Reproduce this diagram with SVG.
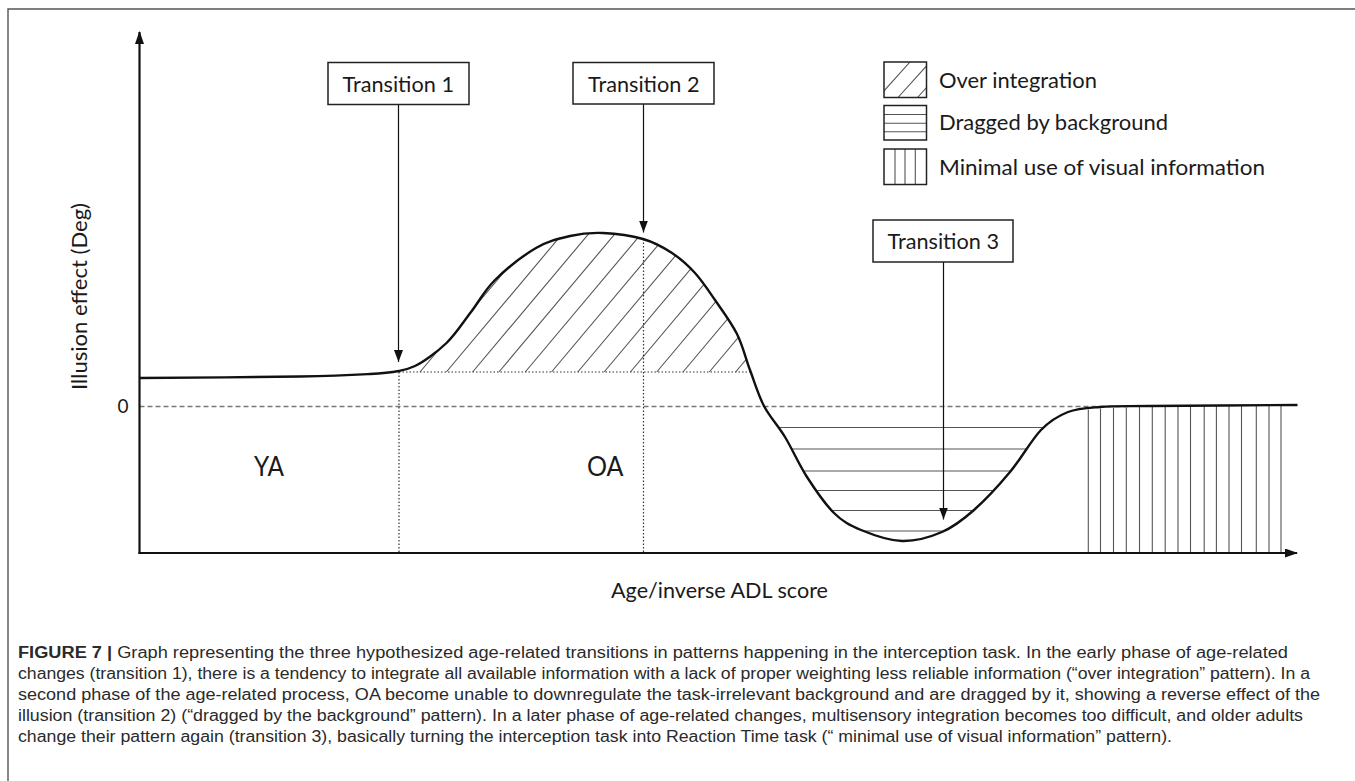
<svg xmlns="http://www.w3.org/2000/svg" width="1355" height="781" viewBox="0 0 1355 781">
<style>
.lab{font-family:Lato,"Open Sans","Liberation Sans",sans-serif;fill:#1a1a1a;}
.box{fill:#fff;stroke:#222;stroke-width:1.5;}
.hatch{stroke:#555;stroke-width:1.1;fill:none;}
.dot{stroke:#333;stroke-width:1.2;stroke-dasharray:1.5 2;fill:none;}
.dash{stroke:#777;stroke-width:1.3;stroke-dasharray:5 3;fill:none;}
.arr{stroke:#111;stroke-width:1.2;fill:none;marker-end:url(#ah);}
.axis{stroke:#111;stroke-width:2.2;fill:none;marker-end:url(#axh);}
.cap{font-family:"Liberation Sans",Arial,sans-serif;font-size:16px;fill:#2a2a2a;}
</style>
<defs>
<marker id="ah" markerUnits="userSpaceOnUse" markerWidth="12" markerHeight="9" viewBox="0 0 12 9" refX="12" refY="4.5" orient="auto"><path d="M0,0 L12,4.5 L0,9 Z" fill="#111"/></marker>
<marker id="axh" markerUnits="userSpaceOnUse" markerWidth="13" markerHeight="9" viewBox="0 0 13 9" refX="12" refY="4.5" orient="auto"><path d="M0,0 L13,4.5 L0,9 Z" fill="#111"/></marker>
<clipPath id="hump"><path d="M139.5,378 C166.25,377.75 261.58,377.17 300,376.5 C338.42,375.83 353.5,374.92 370,374 C386.5,373.08 391.5,372.33 399,371 C406.5,369.67 407.08,369.6 415,366 C422.92,362.4 437.17,352 446.5,343 C455.83,334 462.92,322.5 471,312 C479.08,301.5 484.17,290.67 495,280 C505.83,269.33 523.5,255.33 536,248 C548.5,240.67 558.83,238.5 570,236 C581.17,233.5 590.83,232.5 603,233 C615.17,233.5 631.5,235.67 643,239 C654.5,242.33 663.33,247.33 672,253 C680.67,258.67 687.83,265.17 695,273 C702.17,280.83 708,289.83 715,300 C722,310.17 731.17,322.33 737,334 C742.83,345.67 745.5,358 750,370 C754.5,382 758.17,394.83 764,406 L1297.5,406 L1297.5,372 L139.5,372 Z"/></clipPath>
<clipPath id="trough"><path d="M750,370 C754.5,382 758.17,394.83 764,406 C769.83,417.17 777.83,425.17 785,437 C792.17,448.83 798.83,464.33 807,477 C815.17,489.67 825,504.17 834,513 C843,521.83 849.67,525.33 861,530 C872.33,534.67 888.5,540.67 902,541 C915.5,541.33 930,537.17 942,532 C954,526.83 962.67,520 974,510 C985.33,500 998.83,485.33 1010,472 C1021.17,458.67 1031.33,440 1041,430 C1050.67,420 1058.17,415.83 1068,412 C1077.83,408.17 1086.33,408 1100,407 L1100,370 Z"/></clipPath>
<clipPath id="lg1"><rect x="884" y="62" width="42.5" height="35.5"/></clipPath>
</defs>
<rect x="0" y="0" width="1355" height="781" fill="#fff"/>
<g id="frame" stroke="#555" stroke-width="1.4" fill="none">
<path d="M8,781 V9 H1355"/>
</g>
<g id="hatching">
<g clip-path="url(#hump)" class="hatch">
<path d="M420,372 l134.4,-160 M446.3,372 l134.4,-160 M472.6,372 l134.4,-160 M498.9,372 l134.4,-160 M525.2,372 l134.4,-160 M551.5,372 l134.4,-160 M577.8,372 l134.4,-160 M604.1,372 l134.4,-160 M630.4,372 l134.4,-160 M656.7,372 l134.4,-160 M683,372 l134.4,-160 M709.3,372 l134.4,-160 M735.6,372 l134.4,-160"/>
</g>
<g clip-path="url(#trough)" class="hatch">
<path d="M740,427.5 H1110 M740,449 H1110 M740,471 H1110 M740,490.5 H1110 M740,510.5 H1110 M740,531 H1110"/>
</g>
<g class="hatch">
<path d="M1088.3,409.5 V552 M1100.5,408.5 V552 M1113.5,407.8 V552 M1126.3,407.4 V552 M1139.5,407 V552 M1152.3,406.6 V552 M1165.2,406.5 V552 M1178,406.3 V552 M1190.5,406.2 V552 M1204.2,406 V552 M1216.4,406 V552 M1229,405.8 V552 M1241.5,405.6 V552 M1256.3,405.5 V552 M1269,405.4 V552 M1281,405.3 V552"/>
</g>
</g>
<g id="guides">
<path class="dash" d="M139.5,406.5 H1130"/>
<path class="dot" d="M399,372 H751"/>
<path class="dot" d="M399,372 V553"/>
<path class="dot" d="M643.5,239 V553"/>
</g>
<g id="axes">
<path class="axis" d="M139.5,554 V32"/>
<path class="axis" d="M138.5,553 H1297"/>
</g>
<g id="curve">
<path fill="none" stroke="#111" stroke-width="2.4" stroke-linejoin="round" d="M139.5,378 C166.25,377.75 261.58,377.17 300,376.5 C338.42,375.83 353.5,374.92 370,374 C386.5,373.08 391.5,372.33 399,371 C406.5,369.67 407.08,369.6 415,366 C422.92,362.4 437.17,352 446.5,343 C455.83,334 462.92,322.5 471,312 C479.08,301.5 484.17,290.67 495,280 C505.83,269.33 523.5,255.33 536,248 C548.5,240.67 558.83,238.5 570,236 C581.17,233.5 590.83,232.5 603,233 C615.17,233.5 631.5,235.67 643,239 C654.5,242.33 663.33,247.33 672,253 C680.67,258.67 687.83,265.17 695,273 C702.17,280.83 708,289.83 715,300 C722,310.17 731.17,322.33 737,334 C742.83,345.67 745.5,358 750,370 C754.5,382 758.17,394.83 764,406 C769.83,417.17 777.83,425.17 785,437 C792.17,448.83 798.83,464.33 807,477 C815.17,489.67 825,504.17 834,513 C843,521.83 849.67,525.33 861,530 C872.33,534.67 888.5,540.67 902,541 C915.5,541.33 930,537.17 942,532 C954,526.83 962.67,520 974,510 C985.33,500 998.83,485.33 1010,472 C1021.17,458.67 1031.33,440 1041,430 C1050.67,420 1058.17,415.83 1068,412 C1077.83,408.17 1086.33,408 1100,407 C1113.67,406 1117.08,406.33 1150,406 C1182.92,405.67 1272.92,405.17 1297.5,405"/>
</g>
<g id="connectors">
<path class="arr" d="M398.5,104.5 V362"/>
<path class="arr" d="M643.5,104 V232.5"/>
<path class="arr" d="M943.5,262 V519.5"/>
</g>
<g id="transition1">
<rect class="box" x="328" y="62.5" width="141" height="42"/>
<text class="lab" x="342.5" y="91.5" font-size="22" textLength="111.5" lengthAdjust="spacingAndGlyphs">Transition 1</text>
</g>
<g id="transition2">
<rect class="box" x="573" y="62.5" width="141" height="41.5"/>
<text class="lab" x="588" y="91.5" font-size="22" textLength="111.5" lengthAdjust="spacingAndGlyphs">Transition 2</text>
</g>
<g id="transition3">
<rect class="box" x="873" y="220" width="140" height="42"/>
<text class="lab" x="887.5" y="248.5" font-size="22" textLength="111.5" lengthAdjust="spacingAndGlyphs">Transition 3</text>
</g>
<g id="legend-over">
<g clip-path="url(#lg1)" class="hatch"><path d="M878,97.5 l32,-35.5 M898,97.5 l32,-35.5 M917.5,97.5 l32,-35.5"/></g>
<rect x="884" y="62" width="42.5" height="35.5" fill="none" stroke="#222" stroke-width="1.5"/>
<text class="lab" x="939" y="88" font-size="22" textLength="158" lengthAdjust="spacingAndGlyphs">Over integration</text>
</g>
<g id="legend-dragged">
<path class="hatch" d="M884,114.5 H926.5 M884,123.3 H926.5 M884,131.8 H926.5"/>
<rect x="884" y="105.5" width="42.5" height="34.5" fill="none" stroke="#222" stroke-width="1.5"/>
<text class="lab" x="939" y="130" font-size="22" textLength="229" lengthAdjust="spacingAndGlyphs">Dragged by background</text>
</g>
<g id="legend-minimal">
<path class="hatch" d="M895,149 V184.5 M905,149 V184.5 M915.3,149 V184.5"/>
<rect x="884" y="149" width="42.5" height="35.5" fill="none" stroke="#222" stroke-width="1.5"/>
<text class="lab" x="939" y="174.5" font-size="22" textLength="326" lengthAdjust="spacingAndGlyphs">Minimal use of visual information</text>
</g>
<g id="labels">
<text class="lab" x="123" y="412.5" font-size="19" text-anchor="middle">0</text>
<text class="lab" x="254" y="475.5" font-size="27" textLength="30" lengthAdjust="spacingAndGlyphs">YA</text>
<text class="lab" x="587" y="475.5" font-size="27" textLength="36.5" lengthAdjust="spacingAndGlyphs">OA</text>
<text class="lab" x="611" y="598" font-size="22" textLength="217" lengthAdjust="spacingAndGlyphs">Age/inverse ADL score</text>
<text class="lab" transform="translate(86.5,390) rotate(-90)" font-size="22" textLength="187" lengthAdjust="spacingAndGlyphs">Illusion effect (Deg)</text>
</g>
<g id="caption" class="cap">
<text x="18" y="657.5" textLength="1270" lengthAdjust="spacingAndGlyphs"><tspan font-weight="bold">FIGURE 7 |</tspan> Graph representing the three hypothesized age-related transitions in patterns happening in the interception task. In the early phase of age-related</text>
<text x="18" y="678.5" textLength="1292" lengthAdjust="spacingAndGlyphs">changes (transition 1), there is a tendency to integrate all available information with a lack of proper weighting less reliable information (“over integration” pattern). In a</text>
<text x="18" y="699.5" textLength="1302" lengthAdjust="spacingAndGlyphs">second phase of the age-related process, OA become unable to downregulate the task-irrelevant background and are dragged by it, showing a reverse effect of the</text>
<text x="18" y="720.5" textLength="1285" lengthAdjust="spacingAndGlyphs">illusion (transition 2) (“dragged by the background” pattern). In a later phase of age-related changes, multisensory integration becomes too difficult, and older adults</text>
<text x="18" y="741.5" textLength="1154" lengthAdjust="spacingAndGlyphs">change their pattern again (transition 3), basically turning the interception task into Reaction Time task (“ minimal use of visual information” pattern).</text>
</g>
</svg>
